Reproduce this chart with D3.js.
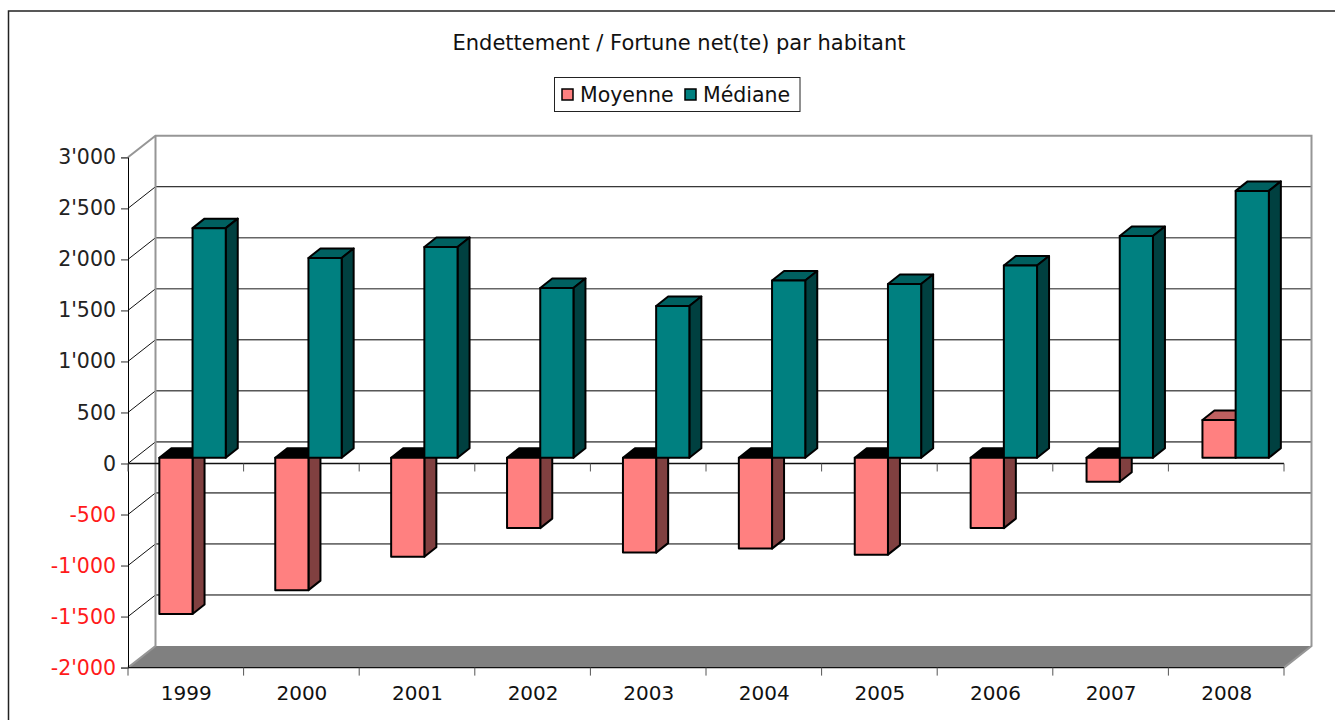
<!DOCTYPE html>
<html>
<head>
<meta charset="utf-8">
<script src="https://cdn.jsdelivr.net/npm/d3@7"></script>
<style>
  html, body { margin: 0; background: #fff; }
  svg { display: block; }
  text { font-family: "DejaVu Sans", Verdana, sans-serif; fill: #111; }
</style>
</head>
<body>
<svg id="chart" width="1335" height="720"></svg>
<script>
const years = ['1999', '2000', '2001', '2002', '2003', '2004', '2005', '2006', '2007', '2008']
const moyenne = [-1530, -1297, -969, -689, -929, -890, -949, -689, -235, 370]
const mediane = [2250, 1958, 2066, 1664, 1487, 1737, 1703, 1884, 2173, 2615]
const yTicks = [3000, 2500, 2000, 1500, 1000, 500, 0, -500, -1000, -1500, -2000]
const seriesNames = ['Moyenne', 'Médiane']
// these gridlines come out soft grey in the original, the others thin black
const softGrid = [2000, 1500, 0, -500]

const colors = {
  Moyenne: { front: '#ff8080', top: '#bf6060', side: '#804040', under: '#000' },
  Médiane: { front: '#008080', top: '#006060', side: '#004040', under: '#000' }
}

let svg = d3.select('#chart')

// front plane of the fake 3d box, the wall sits behind it at (depthX, depthY)
let x = d3.scaleBand().domain(years).range([128, 1284])
let y = d3.scaleLinear().domain([-2000, 3000]).range([667.6, 157.3])
let depthX = 27.5
let depthY = -21.6
// bars stand in the middle of the depth, on a slightly wider step than the axis
let xBar = d3.scaleBand().domain(years).range([134.6, 1293.6])
let barY0 = -5.7
let barDX = 12
let barDY = -9.5
let barW = 33.2

let line = d3.line()

// outer frame, only top and left show
svg.append('path')
  .attr('d', 'M8.5,720V11H1335')
  .attr('fill', 'none')
  .attr('stroke', '#222')
  .attr('stroke-width', 1.5)

// floor
let floorY = y(-2000)
svg.append('path')
  .attr('d', line([[128, floorY], [1284, floorY], [1284 + depthX, floorY + depthY], [128 + depthX, floorY + depthY]]) + 'Z')
  .attr('fill', '#808080')

let gridTicks = yTicks.filter(d => d != 3000 && d != -2000)

// gridlines on the back wall
svg.append('g')
  .selectAll('line')
  .data(gridTicks)
  .enter()
  .append('line')
  .attr('x1', 128 + depthX).attr('x2', 1284 + depthX)
  .attr('y1', d => y(d) + depthY).attr('y2', d => y(d) + depthY)
  .attr('stroke', d => softGrid.includes(d) ? '#666' : '#000')
  .attr('stroke-width', d => softGrid.includes(d) ? 1.6 : 1)

// and their thin slants on the side wall
svg.append('g')
  .selectAll('line')
  .data(gridTicks)
  .enter()
  .append('line')
  .attr('x1', 128).attr('x2', 128 + depthX)
  .attr('y1', d => y(d)).attr('y2', d => y(d) + depthY)
  .attr('stroke', '#111')

// wall outline
svg.append('path')
  .attr('d', line([[128, y(3000)], [128 + depthX, y(3000) + depthY], [1284 + depthX, y(3000) + depthY], [1284 + depthX, floorY + depthY], [1284, floorY]]))
  .attr('fill', 'none')
  .attr('stroke', '#969696')
  .attr('stroke-width', 2)
svg.append('path')
  .attr('d', line([[128 + depthX, y(3000) + depthY], [128 + depthX, floorY + depthY], [128, floorY]]))
  .attr('fill', 'none')
  .attr('stroke', '#969696')
  .attr('stroke-width', 2)

// y axis
let yAxis = d3.axisLeft(y)
  .tickValues(yTicks)
  .tickSize(7)
  .tickPadding(5)
  .tickFormat(d => d3.format(',')(d).replace(/,/g, "'").replace('−', '-'))
let gy = svg.append('g').attr('transform', 'translate(128,0)').call(yAxis)
gy.select('.domain').attr('stroke', '#000')
gy.selectAll('.tick line').attr('stroke', '#666').attr('stroke-width', 1.4)
gy.selectAll('text')
  .style('font-size', '20.5px')
  .style('fill', d => d < 0 ? '#ff1a1a' : '#222')

// category axes, at zero and at the floor
function catAxis(v, labels) {
  let g = svg.append('g')
  let edges = years.map(d => x(d)).concat([x.range()[1]])
  g.append('line')
    .attr('x1', 128).attr('x2', 1284)
    .attr('y1', y(v)).attr('y2', y(v))
    .attr('stroke', '#111')
    .attr('stroke-width', 1.3)
  g.selectAll('line.t')
    .data(edges)
    .enter()
    .append('line')
    .attr('class', 't')
    .attr('x1', d => d).attr('x2', d => d)
    .attr('y1', y(v)).attr('y2', y(v) + 8)
    .attr('stroke', '#555')
  if (labels) {
    g.selectAll('text')
      .data(years)
      .enter()
      .append('text')
      .attr('x', d => x(d) + x.bandwidth() / 2 + 0.5)
      .attr('y', y(v) + 32)
      .attr('text-anchor', 'middle')
      .style('font-size', '20px')
      .text(d => d)
  }
}
catAxis(0, false)
catAxis(-2000, true)

// one fake 3d bar: end cap, side, front
function bar3d(g, left, v, c) {
  let base = y(0) + barY0
  let tip = y(v) + barY0
  let right = left + barW
  let top = Math.min(base, tip)
  let bottom = Math.max(base, tip)
  g.append('path')
    .attr('d', line([[left, top], [left + barDX, top + barDY], [right + barDX, top + barDY], [right, top]]) + 'Z')
    .attr('fill', v < 0 ? c.under : c.top)
  g.append('path')
    .attr('d', line([[right, top], [right + barDX, top + barDY], [right + barDX, bottom + barDY], [right, bottom]]) + 'Z')
    .attr('fill', c.side)
  g.append('rect')
    .attr('x', left).attr('y', top)
    .attr('width', barW).attr('height', bottom - top)
    .attr('fill', c.front)
  g.selectAll('path, rect')
    .attr('stroke', '#000')
    .attr('stroke-width', 2)
    .attr('stroke-linejoin', 'round')
}

years.forEach((d, i) => {
  let g = svg.append('g')
  let left = xBar(d) + xBar.bandwidth() / 2 - barW
  bar3d(g.append('g'), left, moyenne[i], colors.Moyenne)
  bar3d(g.append('g'), left + barW, mediane[i], colors['Médiane'])
})

// title
svg.append('text')
  .attr('x', 679)
  .attr('y', 50)
  .attr('text-anchor', 'middle')
  .style('font-size', '21px')
  .text('Endettement / Fortune net(te) par habitant')

// legend
svg.append('rect')
  .attr('x', 554.5).attr('y', 77.5)
  .attr('width', 245.5).attr('height', 34)
  .attr('fill', '#fff')
  .attr('stroke', '#222')
let legendX = [562, 685]
seriesNames.forEach((n, i) => {
  svg.append('rect')
    .attr('x', legendX[i]).attr('y', 89)
    .attr('width', 11).attr('height', 11)
    .attr('fill', colors[n].front)
    .attr('stroke', '#000')
    .attr('stroke-width', 1.5)
  svg.append('text')
    .attr('x', legendX[i] + 18)
    .attr('y', 102)
    .style('font-size', '20.5px')
    .text(n)
})
</script>
</body>
</html>
